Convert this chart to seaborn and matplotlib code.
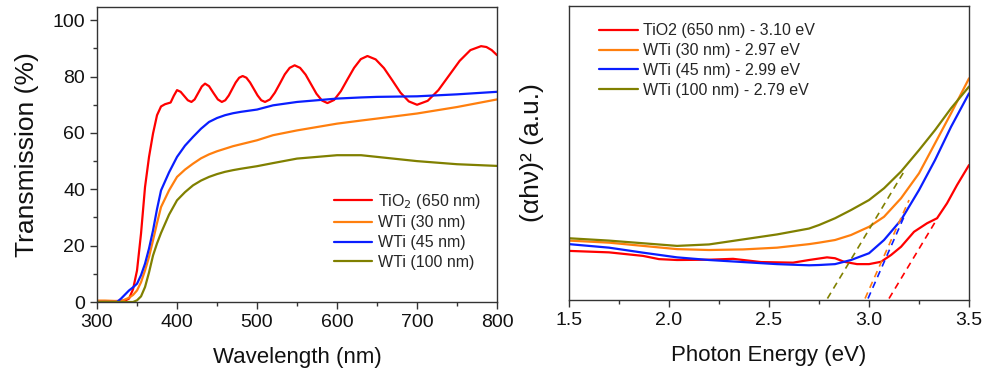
# Transmission spectra and Tauc plots (TiO2 / WTi films)

import pandas as pd
import numpy as np
import matplotlib
matplotlib.use("Agg")
import matplotlib.pyplot as plt
from matplotlib.ticker import MultipleLocator
import seaborn as sns

# 1. Data
# left panel: transmission (%) vs wavelength (nm)
wl_tio2 = [300, 320, 335, 340, 345, 350, 355, 360, 365, 370, 375, 380, 385, 392, 396,
           400, 404.5, 409, 413.5, 418, 422, 426.5, 431, 435, 440, 445.5, 451, 456,
           460.3, 464.7, 469, 473.3, 477.7, 482, 486.7, 491.3, 496, 500.7, 505.3, 510,
           516.2, 522.3, 528.5, 534.7, 540.8, 547, 553.8, 560.7, 567.5, 574.3, 581.2, 588,
           596.3, 604.7, 613, 621.3, 629.7, 638, 648.3, 658.7, 669, 679.3, 689.7, 700,
           713.3, 726.7, 740, 753.3, 766.7, 780, 786.7, 793.3, 800]
t_tio2 = [0.3, 0.3, 0.5, 1.2, 4.5, 11.2, 24.3, 40.8, 51.5, 59.8, 66.3, 69.4, 70.2, 70.8, 73.2,
          75.2, 74.6, 73.1, 71.6, 71, 71.9, 74.2, 76.5, 77.5, 76.6, 74.2, 71.9, 71,
          71.6, 73.3, 75.6, 77.9, 79.6, 80.2, 79.6, 77.9, 75.6, 73.3, 71.6, 71,
          71.9, 74.3, 77.5, 80.8, 83.1, 84, 83.1, 80.7, 77.3, 73.9, 71.5, 70.6,
          71.7, 74.8, 79.0, 83.1, 86.2, 87.3, 86.1, 83.0, 78.7, 74.3, 71.2, 70,
          71.4, 75.2, 80.4, 85.6, 89.4, 90.8, 90.5, 89.4, 87.6]

wl_wti = [300, 310, 320, 325, 330, 340, 345, 350, 355, 360, 365, 370, 375, 380, 390,
          400, 410, 420, 430, 440, 450, 460, 470, 480, 500, 520, 550, 600, 630, 650,
          700, 750, 800]
t_wti30 = [0.5, 0.5, 0.4, 0.3, 0.3, 1.5, 2.5, 4.1, 7, 11.2, 16, 21.9, 28, 33.7, 39.6,
           44.4, 47, 49.1, 51, 52.4, 53.5, 54.4, 55.3, 56, 57.4, 59.2, 60.9, 63.3, 64.4, 65.1,
           66.9, 69.2, 71.9]
t_wti45 = [0, 0, 0, 0, 1.2, 4.1, 5.2, 6.5, 9.5, 13.6, 19, 25.4, 33, 39.6, 46,
           51.5, 55.5, 58.6, 61.5, 63.9, 65.3, 66.3, 67, 67.5, 68.3, 69.8, 71, 72.2, 72.6, 72.8,
           73, 73.7, 74.6]
t_wti100 = [0, 0, 0, 0, 0, 0, 0, 0.6, 2, 5.3, 10.5, 16.5, 20.8, 24.5, 31,
            36.1, 39, 41.4, 43.1, 44.4, 45.4, 46.2, 46.8, 47.3, 48.2, 49.3, 50.9, 52.1, 52.1, 51.5,
            50, 48.9, 48.3]

# right panel: (alpha h nu)^2 in arbitrary units vs photon energy (eV)
ev_tio2 = [1.5, 1.7, 1.87, 1.95, 2.04, 2.2, 2.32, 2.46, 2.62, 2.7, 2.79, 2.83, 2.875,
           2.94, 3.0, 3.06, 3.11, 3.16, 3.225, 3.29, 3.34, 3.39, 3.44, 3.5]
tauc_tio2 = [16.7, 16.2, 15.0, 13.9, 13.6, 13.7, 14.0, 12.9, 12.7, 13.6, 14.5, 14.2, 13.0,
             12.2, 12.2, 13.0, 15.3, 18.1, 23.2, 26.1, 27.8, 32.9, 39.1, 45.9]

ev = [1.5, 1.7, 1.87, 2.04, 2.2, 2.37, 2.54, 2.7, 2.75, 2.83, 2.91, 3.0, 3.075, 3.16,
      3.25, 3.33, 3.41, 3.5]
tauc_wti30 = [20.2, 19.5, 18.4, 17.3, 17.0, 17.2, 17.8, 19.0, 19.5, 20.4, 22.1, 24.9, 28.3,
              34.6, 43.1, 53.3, 63.5, 75.4]
tauc_wti45 = [19.0, 17.8, 16.1, 14.5, 13.6, 12.9, 12.2, 11.8, 11.9, 12.2, 13.6, 15.9, 20.4,
              27.2, 37.4, 47.6, 58.9, 70.3]
tauc_wti100 = [21.0, 20.2, 19.3, 18.4, 18.9, 20.6, 22.3, 24.3, 25.5, 27.8, 30.6, 34.0, 38.0,
               43.7, 51.0, 57.8, 65.2, 72.6]

# linear fits (dashed): start / end points
fit_x0 = [3.10, 2.98, 2.995, 2.792]
fit_x1 = [3.342, 3.20, 3.175, 3.175]
fit_y0 = [0.5, 0.5, 0.5, 0.5]
fit_y1 = [27.8, 34.0, 28.3, 43.7]

left_labels = ["TiO$_2$ (650 nm)", "WTi (30 nm)", "WTi (45 nm)", "WTi (100 nm)"]
right_labels = ["TiO2 (650 nm) - 3.10 eV", "WTi (30 nm) - 2.97 eV",
                "WTi (45 nm) - 2.99 eV", "WTi (100 nm) - 2.79 eV"]
colors = ["#ff0000", "#ff7f0e", "#0a1eff", "#808000"]

# 2. Style
sns.set_theme(style="ticks")
plt.rcParams["font.family"] = ["Liberation Sans", "DejaVu Sans"]
plt.rcParams["axes.edgecolor"] = "#333333"
plt.rcParams["xtick.color"] = "#333333"
plt.rcParams["ytick.color"] = "#333333"

fig = plt.figure(figsize=(9.87, 3.74), dpi=100)
ax1 = fig.add_axes([0.0983, 0.1925, 0.4053, 0.7888])
ax2 = fig.add_axes([0.5765, 0.1979, 0.4053, 0.786])

# 3. Left panel
left = [(wl_tio2, t_tio2), (wl_wti, t_wti30), (wl_wti, t_wti45), (wl_wti, t_wti100)]
for (x, y), lab, c in zip(left, left_labels, colors):
    sns.lineplot(x=x, y=y, ax=ax1, color=c, lw=1.6, label=lab, sort=False)

ax1.set_xlim(300, 800)
ax1.set_ylim(0, 104.7)
ax1.xaxis.set_major_locator(MultipleLocator(100))
ax1.xaxis.set_minor_locator(MultipleLocator(50))
ax1.yaxis.set_major_locator(MultipleLocator(20))
ax1.yaxis.set_minor_locator(MultipleLocator(10))
ax1.set_xlabel("Wavelength (nm)", fontsize=16, color="#111111", labelpad=12)
ax1.set_ylabel("Transmission (%)", fontsize=19, color="#111111", labelpad=10)
ax1.legend(loc="lower right", bbox_to_anchor=(0.995, 0.06), frameon=False,
           fontsize=11.5, handlelength=2.4, handletextpad=0.35, labelspacing=0.3)

# 4. Right panel
right = [(ev_tio2, tauc_tio2), (ev, tauc_wti30), (ev, tauc_wti45), (ev, tauc_wti100)]
for (x, y), lab, c in zip(right, right_labels, colors):
    sns.lineplot(x=x, y=y, ax=ax2, color=c, lw=1.6, label=lab)
for i, c in enumerate(colors):
    sns.lineplot(x=[fit_x0[i], fit_x1[i]], y=[fit_y0[i], fit_y1[i]], ax=ax2,
                 color=c, lw=1.2, linestyle=(0, (4, 3)))

ax2.set_xlim(1.5, 3.5)
ax2.set_ylim(0, 100)
ax2.xaxis.set_major_locator(MultipleLocator(0.5))
ax2.xaxis.set_minor_locator(MultipleLocator(0.25))
ax2.set_yticks([])
ax2.set_xlabel("Photon Energy (eV)", fontsize=16, color="#111111", labelpad=12)
ax2.set_ylabel("(\u03b1h\u03bd)\u00b2 (a.u.)", fontsize=19, color="#111111", labelpad=18)
h, l = ax2.get_legend_handles_labels()
ax2.legend(h[:4], l[:4], loc="upper left", bbox_to_anchor=(0.04, 0.99), frameon=False,
           fontsize=11.5, handlelength=2.4, handletextpad=0.35, labelspacing=0.3)

for ax in (ax1, ax2):
    ax.tick_params(which="major", direction="out", length=5, width=1, labelsize=14,
                   labelcolor="#111111")
    ax.tick_params(which="minor", direction="out", length=3, width=1)
    for s in ax.spines.values():
        s.set_visible(True)
        s.set_linewidth(1.0)

fig.savefig("out.png", dpi=100)
